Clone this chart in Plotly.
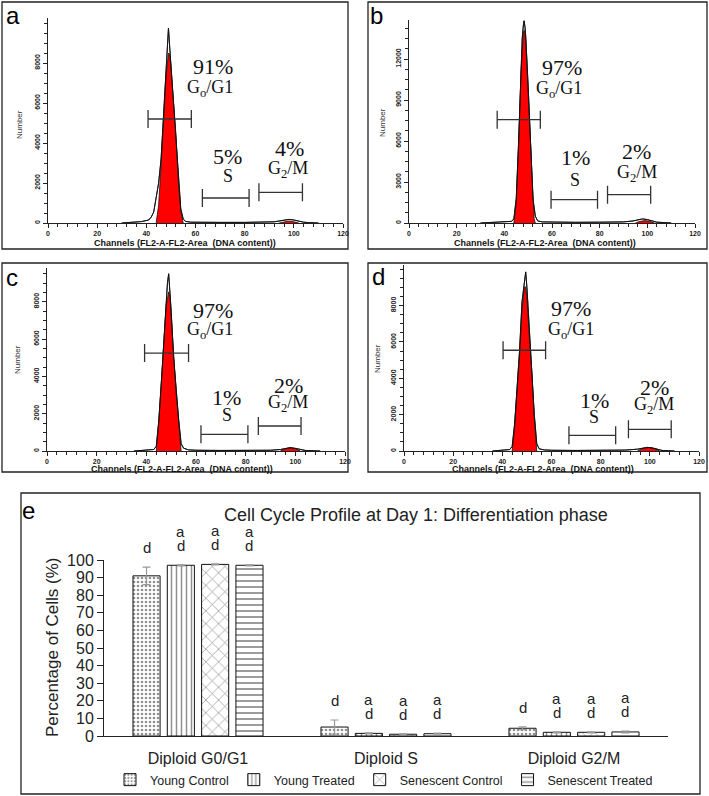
import plotly.graph_objects as go

W, H = 709, 796

# ---------------- Panels a-d : DNA content histograms ----------------
# channel / count readings (black outline = measured histogram)
a_ch = [30, 34, 38, 41, 42, 43, 44, 45, 46, 47, 48, 48.5, 49, 49.5, 50, 51, 52, 53, 54, 55, 56, 58, 62, 70, 80, 88, 92, 94, 96, 98, 100, 102, 104, 106, 110]
a_cnt = [0, 30, 70, 150, 300, 550, 1200, 2000, 3200, 5300, 8000, 9000, 9750, 8800, 7900, 6000, 4500, 2200, 700, 200, 80, 40, 30, 30, 30, 40, 60, 100, 150, 180, 150, 90, 40, 20, 0]
a_g1_ch = [44, 45, 46, 47, 48, 49, 49.5, 50, 51, 52, 53, 54, 55]
a_g1_cnt = [0, 900, 2900, 5200, 7300, 8500, 8400, 7800, 6000, 4500, 2100, 600, 0]
a_g2_ch = [94, 96, 98, 100, 102]
a_g2_cnt = [0, 60, 100, 60, 0]

b_ch = [30, 35, 40, 43, 44, 45, 46, 47, 47.5, 48, 48.3, 48.7, 49, 50, 51, 52, 53, 54, 56, 60, 70, 80, 90, 94, 96, 98, 100, 102, 104, 110]
b_cnt = [0, 60, 80, 120, 300, 1800, 6000, 11500, 13500, 14500, 14800, 14300, 13600, 10000, 5800, 1800, 500, 150, 80, 60, 50, 60, 80, 150, 250, 300, 250, 150, 60, 0]
b_g1_ch = [44, 45, 46, 47, 48, 48.5, 49, 50, 51, 52, 52.5, 53]
b_g1_cnt = [0, 1500, 5600, 11000, 14000, 14100, 13200, 9500, 5500, 1500, 300, 0]
b_g2_ch = [95, 97, 99, 101, 103]
b_g2_cnt = [0, 120, 180, 120, 0]

c_ch = [35, 40, 43, 44, 45, 46, 47, 48, 48.5, 49, 49.5, 50, 51, 52, 53, 54, 55, 57, 60, 70, 80, 90, 94, 96, 98, 100, 102, 104, 110]
c_cnt = [0, 30, 80, 250, 1600, 3600, 6000, 8300, 9000, 9500, 8700, 7500, 5000, 3200, 1700, 400, 150, 60, 40, 30, 30, 40, 80, 140, 180, 140, 80, 30, 0]
c_g1_ch = [44, 45, 46, 47, 48, 49, 49.5, 50, 51, 52, 53, 54]
c_g1_cnt = [0, 1500, 3500, 5800, 7800, 8530, 8300, 7200, 4800, 3100, 1600, 0]
c_g2_ch = [94, 96, 98, 100, 102]
c_g2_cnt = [0, 120, 170, 120, 0]

d_ch = [36, 40, 43, 44, 45, 46, 47, 48, 49, 49.5, 50, 51, 52, 53, 54, 55, 57, 60, 70, 80, 90, 95, 97, 99, 101, 103, 105, 110]
d_cnt = [0, 40, 80, 250, 1500, 3500, 5500, 8200, 9400, 9850, 9000, 6500, 4500, 2000, 400, 120, 60, 40, 30, 30, 50, 100, 160, 200, 170, 90, 30, 0]
d_g1_ch = [44, 45, 46, 47, 48, 49, 49.5, 50, 51, 52, 53, 54]
d_g1_cnt = [0, 1300, 3300, 5200, 7800, 9000, 9030, 8500, 6200, 4300, 1800, 0]
d_g2_ch = [95, 97, 99.5, 102, 104]
d_g2_cnt = [0, 130, 190, 130, 0]

# gates: (start channel, end channel, count level) for G0/G1, S, G2/M
a_gates = [(40.7, 58.3, 5200), (62.8, 81.8, 1250), (85.8, 103.5, 1533)]
b_gates = [(37.0, 55.1, 7560), (59.6, 79.1, 1710), (83.3, 101.4, 2075)]
c_gates = [(39.3, 57.0, 5250), (62.0, 80.9, 893), (85.1, 102.3, 1340)]
d_gates = [(40.3, 57.6, 5540), (67.1, 86.1, 862), (91.3, 108.7, 1190)]

phase_labels = ["G<sub>o</sub>/G1", "S", "G<sub>2</sub>/M"]
a_pct = ["91%", "5%", "4%"]
b_pct = ["97%", "1%", "2%"]
c_pct = ["97%", "1%", "2%"]
d_pct = ["97%", "1%", "2%"]

a_yticks = [0, 2000, 4000, 6000, 8000]
b_yticks = [0, 3000, 6000, 9000, 12000]
c_yticks = [0, 2000, 4000, 6000, 8000]
d_yticks = [0, 2000, 4000, 6000, 8000]
x_ticks = [0, 20, 40, 60, 80, 100, 120]

# ---------------- Panel e : bar chart ----------------
categories = ["Diploid G0/G1", "Diploid S", "Diploid G2/M"]
series = ["Young Control", "Young Treated", "Senescent Control", "Senescent Treated"]
young_control = [91.0, 5.1, 4.4]
young_treated = [97.0, 1.5, 2.1]
senescent_control = [97.5, 1.0, 2.1]
senescent_treated = [97.0, 1.3, 2.3]
young_control_err = [5.0, 4.0, 0.8]
young_treated_err = [0.3, 0.3, 0.3]
senescent_control_err = [0.3, 0.2, 0.3]
senescent_treated_err = [0.3, 0.3, 0.5]
upper_letters = [["", "", ""], ["a", "a", "a"], ["a", "a", "a"], ["a", "a", "a"]]
lower_letters = [["d", "d", "d"], ["d", "d", "d"], ["d", "d", "d"], ["d", "d", "d"]]
e_yticks = [0, 10, 20, 30, 40, 50, 60, 70, 80, 90, 100]


def px2x(p):
    return p / W


def px2y(p):
    return 1 - p / H


fig = go.Figure()

hist_panels = [
    dict(ch=a_ch, cnt=a_cnt, g1=(a_g1_ch, a_g1_cnt), g2=(a_g2_ch, a_g2_cnt), gates=a_gates, pct=a_pct,
         yticks=a_yticks, ymax=10250, dx=(48, 343), dy=(223, 18), minor=500,
         pct_pos=[(67.0, 7833), (73.2, 3333), (98.3, 3750)], lab_pos=[(65.8, 6750), (73.2, 2333), (97.6, 2667)],
         letter="a", letter_px=(13, 16), number_px=(20, 125), chan_px=(185, 243)),
    dict(ch=b_ch, cnt=b_cnt, g1=(b_g1_ch, b_g1_cnt), g2=(b_g2_ch, b_g2_cnt), gates=b_gates, pct=b_pct,
         yticks=b_yticks, ymax=14860, dx=(409, 695), dy=(223, 20), minor=750,
         pct_pos=[(64.2, 11350), (69.8, 4760), (95.6, 5250)], lab_pos=[(62.8, 9760), (69.8, 3170), (95.6, 3660)],
         letter="b", letter_px=(377, 16), number_px=(382, 123), chan_px=(545, 243)),
    dict(ch=c_ch, cnt=c_cnt, g1=(c_g1_ch, c_g1_cnt), g2=(c_g2_ch, c_g2_cnt), gates=c_gates, pct=c_pct,
         yticks=c_yticks, ymax=9810, dx=(47, 345), dy=(451, 268), minor=500,
         pct_pos=[(67.0, 7540), (72.4, 2894), (97.2, 3520)], lab_pos=[(65.7, 6470), (72.4, 1910), (97.2, 2540)],
         letter="c", letter_px=(12, 277), number_px=(18, 360), chan_px=(182, 469)),
    dict(ch=d_ch, cnt=d_cnt, g1=(d_g1_ch, d_g1_cnt), g2=(d_g2_ch, d_g2_cnt), gates=d_gates, pct=d_pct,
         yticks=d_yticks, ymax=10230, dx=(404, 699), dy=(451, 265), minor=500,
         pct_pos=[(67.8, 7830), (77.3, 2790), (101.7, 3520)], lab_pos=[(67.8, 6640), (77.3, 1870), (101.7, 2510)],
         letter="d", letter_px=(379, 276), number_px=(377, 358), chan_px=(543, 469)),
]

annotations = []
shapes = []
tickfont = dict(family="Liberation Sans", size=7, color="#222", weight="bold")


def paper_text(x, y, text, font, angle=0):
    return dict(x=px2x(x), y=px2y(y), xref="paper", yref="paper", text=text, showarrow=False,
                xanchor="center", yanchor="middle", textangle=angle, font=font)


for i, p in enumerate(hist_panels):
    n = i + 1
    xa = "x" if n == 1 else f"x{n}"
    ya = "y" if n == 1 else f"y{n}"
    fig.add_trace(go.Scatter(x=p["ch"], y=p["cnt"], mode="lines", xaxis=xa, yaxis=ya,
                             line=dict(color="#222", width=1), showlegend=False, hoverinfo="skip"))
    for comp in (p["g1"], p["g2"]):
        fig.add_trace(go.Scatter(x=comp[0], y=comp[1], mode="lines", fill="tozeroy", fillcolor="#ff0000",
                                 xaxis=xa, yaxis=ya, line=dict(color="#111", width=0.8),
                                 showlegend=False, hoverinfo="skip"))
    fig.add_trace(go.Scatter(x=p["ch"], y=p["cnt"], mode="lines", xaxis=xa, yaxis=ya,
                             line=dict(color="#111", width=0.9), showlegend=False, hoverinfo="skip"))
    fig.add_trace(go.Scatter(
        x=[(g[0] + g[1]) / 2 for g in p["gates"]], y=[g[2] for g in p["gates"]],
        mode="markers", marker=dict(size=1, color="rgba(0,0,0,0)"), xaxis=xa, yaxis=ya,
        error_x=dict(type="data", symmetric=True, array=[(g[1] - g[0]) / 2 for g in p["gates"]],
                     color="#333", thickness=1.3, width=9),
        showlegend=False, hoverinfo="skip"))
    fig.layout[("xaxis" if n == 1 else f"xaxis{n}")] = dict(
        domain=[px2x(p["dx"][0]), px2x(p["dx"][1])], anchor=ya, range=[0, 120],
        tickvals=x_ticks, ticks="outside", ticklen=4, tickcolor="#222", showline=True,
        linecolor="#222", linewidth=1, showgrid=False, zeroline=False, tickfont=tickfont,
        automargin=False, minor=dict(dtick=4, ticks="outside", ticklen=3, tickcolor="#222"))
    fig.layout[("yaxis" if n == 1 else f"yaxis{n}")] = dict(
        domain=[px2y(p["dy"][0]), px2y(p["dy"][1])], anchor=xa, range=[0, p["ymax"]],
        tickvals=p["yticks"], tickformat="d", ticks="outside", ticklen=4, tickcolor="#222", showline=True,
        linecolor="#222", linewidth=1, showgrid=False, zeroline=False, tickangle=-90,
        tickfont=tickfont, automargin=False,
        minor=dict(dtick=p["minor"], ticks="outside", ticklen=3, tickcolor="#222"))
    for k in range(3):
        annotations.append(dict(x=p["pct_pos"][k][0], y=p["pct_pos"][k][1], xref=xa, yref=ya,
                                text=p["pct"][k], showarrow=False,
                                font=dict(family="Liberation Serif", size=22, color="#111")))
        annotations.append(dict(x=p["lab_pos"][k][0], y=p["lab_pos"][k][1], xref=xa, yref=ya,
                                text=phase_labels[k], showarrow=False,
                                font=dict(family="Liberation Serif", size=18, color="#111")))
    annotations.append(paper_text(*p["letter_px"], p["letter"],
                                  dict(family="Liberation Sans", size=24, color="#000")))
    annotations.append(paper_text(*p["number_px"], "Number",
                                  dict(family="Liberation Sans", size=8, color="#333"), angle=-90))
    annotations.append(paper_text(*p["chan_px"], "Channels (FL2-A-FL2-Area  (DNA content))",
                                  dict(family="Liberation Sans", size=9, color="#111", weight="bold")))

for (x0, y0, x1, y1) in [(2, 2, 348, 249), (368, 2, 707, 249), (2, 263, 348, 472), (368, 263, 707, 472), (21, 493, 700, 794)]:
    shapes.append(dict(type="rect", xref="paper", yref="paper", x0=px2x(x0), x1=px2x(x1),
                       y0=px2y(y1), y1=px2y(y0), line=dict(color="#222", width=1.3)))

# ---------------- panel e bars ----------------
sans = "Liberation Sans, Arial"
vals = [young_control, young_treated, senescent_control, senescent_treated]
errs = [young_control_err, young_treated_err, senescent_control_err, senescent_treated_err]
patterns = [dict(shape=".", size=4, solidity=0.35), dict(shape="|", size=5, solidity=0.3),
            dict(shape="x", size=9, solidity=0.15), dict(shape="-", size=6, solidity=0.3)]
for s in range(4):
    pat = dict(patterns[s]); pat.update(fgcolor="#222", bgcolor="white", fillmode="overlay")
    fig.add_trace(go.Bar(x=categories, y=vals[s], name=series[s], xaxis="x5", yaxis="y5",
                         marker=dict(color="white", line=dict(color="#111", width=1), pattern=pat),
                         error_y=dict(type="data", array=errs[s], color="#999", thickness=1.2, width=4),
                         hoverinfo="skip"))

bargap = 0.27
slot = (1 - bargap) / 4
for s in range(4):
    for c in range(3):
        base = vals[s][c] + errs[s][c] + 11
        xpos = c + (s - 1.5) * slot
        annotations.append(dict(x=xpos, y=base, xref="x5", yref="y6", text=lower_letters[s][c],
                                showarrow=False, font=dict(family=sans, size=15, color="#222")))
        if upper_letters[s][c]:
            annotations.append(dict(x=xpos, y=base + 8, xref="x5", yref="y6", text=upper_letters[s][c],
                                    showarrow=False, font=dict(family=sans, size=15, color="#222")))

annotations.append(paper_text(416, 515, "Cell Cycle Profile at Day 1: Differentiation phase",
                              dict(family=sans, size=18, color="#222")))
annotations.append(paper_text(52, 647, "Percentage of Cells (%)", dict(family=sans, size=17, color="#222"),
                              angle=-90))
annotations.append(paper_text(28, 510, "e", dict(family="Liberation Sans", size=24, color="#000")))

# letters axis: same scale as yaxis5 (0 at 736px, 100 at 560px) extended upward to 520px
letters_top_px = 520
letters_ymax = 100 * (736 - letters_top_px) / (736 - 560)

fig.update_layout(
    width=W, height=H, autosize=False, margin=dict(l=0, r=0, t=0, b=0, autoexpand=False),
    paper_bgcolor="white", plot_bgcolor="rgba(0,0,0,0)",
    barmode="group", bargap=bargap, bargroupgap=0.21,
    xaxis5=dict(domain=[px2x(104), px2x(668)], anchor="y5", type="category", showline=True,
                linecolor="#222", linewidth=1, ticks="", showgrid=False, automargin=False,
                ticklabelstandoff=8, tickfont=dict(family=sans, size=16, color="#222")),
    yaxis5=dict(domain=[px2y(736), px2y(560)], anchor="x5", range=[0, 100], tickvals=e_yticks,
                ticks="outside", ticklen=6, tickcolor="#222", showline=True, linecolor="#222",
                linewidth=1, showgrid=False, zeroline=False, automargin=False,
                tickfont=dict(family=sans, size=16, color="#222")),
    yaxis6=dict(domain=[px2y(736), px2y(letters_top_px)], anchor="x5", range=[0, letters_ymax],
                visible=False, showgrid=False, zeroline=False),
    legend=dict(orientation="h", x=px2x(384), xanchor="center", y=px2y(780), yanchor="middle",
                font=dict(family=sans, size=12.5, color="#222"), bgcolor="rgba(0,0,0,0)",
                itemwidth=30, tracegroupgap=0),
    annotations=annotations, shapes=shapes,
)

fig.write_html("out.html", config={"displayModeBar": False},
               post_script="document.body.style.margin='0px';")
